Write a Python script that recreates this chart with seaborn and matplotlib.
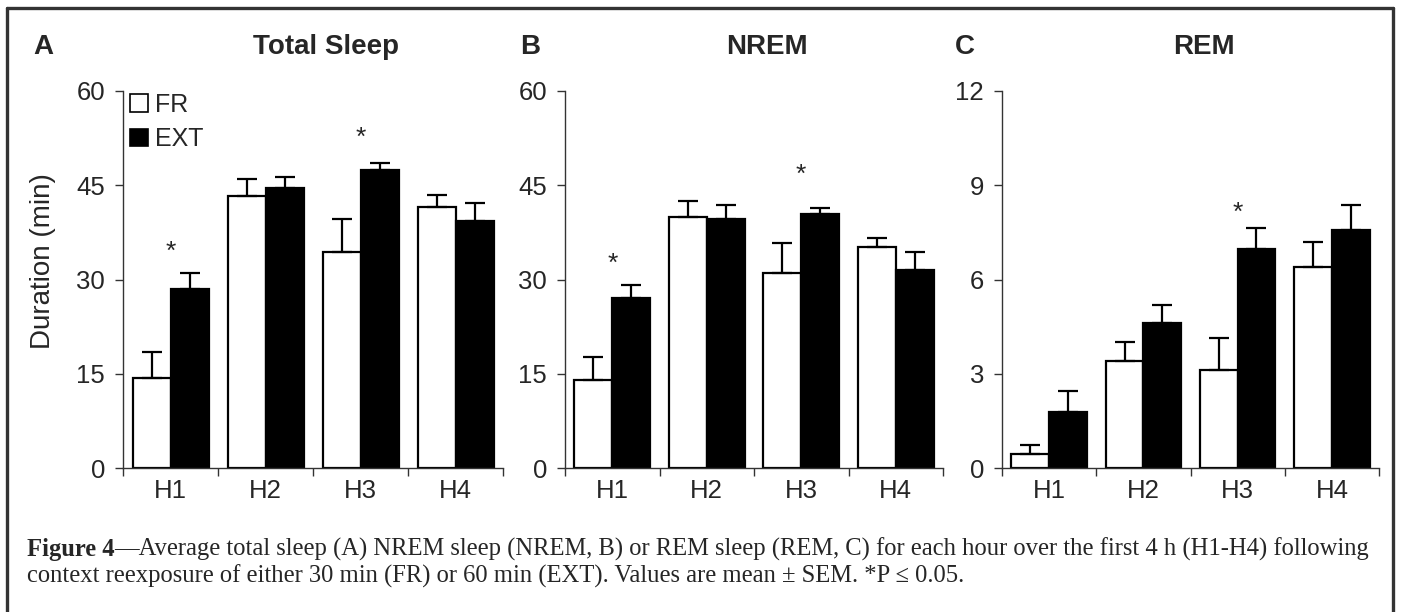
import pandas as pd
import matplotlib.pyplot as plt
import matplotlib.transforms as mtransforms
import seaborn as sns
from matplotlib.patches import Patch
from matplotlib.lines import Line2D

sns.set_style("ticks")
plt.rcParams['font.family'] = ['Liberation Sans', 'DejaVu Sans']

# Data (mean and upper SEM)
hours = ["H1", "H2", "H3", "H4"]
groups = ["FR", "EXT"]

total_fr = [14.4, 43.3, 34.4, 41.5]
total_fr_sem = [4.1, 2.7, 5.2, 1.9]
total_ext = [28.5, 44.5, 47.5, 39.3]
total_ext_sem = [2.6, 1.8, 1.0, 2.9]

nrem_fr = [14.0, 40.0, 31.0, 35.1]
nrem_fr_sem = [3.7, 2.5, 4.8, 1.5]
nrem_ext = [27.0, 39.6, 40.4, 31.5]
nrem_ext_sem = [2.2, 2.2, 1.0, 2.9]

rem_fr = [0.46, 3.42, 3.13, 6.39]
rem_fr_sem = [0.28, 0.58, 1.01, 0.79]
rem_ext = [1.78, 4.61, 6.97, 7.57]
rem_ext_sem = [0.67, 0.58, 0.66, 0.81]

# significance stars: (hour, height)
total_stars = [("H1", 35.0), ("H3", 53.2)]
nrem_stars = [("H1", 33.1), ("H3", 47.3)]
rem_stars = [("H3", 8.24)]

panels = [
    ("A", "Total Sleep", total_fr, total_fr_sem, total_ext, total_ext_sem, total_stars, [0, 15, 30, 45, 60]),
    ("B", "NREM", nrem_fr, nrem_fr_sem, nrem_ext, nrem_ext_sem, nrem_stars, [0, 15, 30, 45, 60]),
    ("C", "REM", rem_fr, rem_fr_sem, rem_ext, rem_ext_sem, rem_stars, [0, 3, 6, 9, 12]),
]

W, H = 1401, 612
fig = plt.figure(figsize=(W / 100, H / 100), dpi=100)

# axes boxes in pixels: left, right
boxes = [(123, 503), (565, 943), (1002, 1379)]
letter_x = [43, 530, 965]
ax_top, ax_bottom = 91, 468

for (letter, title, fr, fr_sem, ext, ext_sem, stars, yticks), (x0, x1), lx in zip(panels, boxes, letter_x):
    ax = fig.add_axes([x0 / W, 1 - ax_bottom / H, (x1 - x0) / W, (ax_bottom - ax_top) / H])
    df = pd.DataFrame({
        "hour": hours * 2,
        "group": ["FR"] * 4 + ["EXT"] * 4,
        "value": fr + ext,
    })
    sns.barplot(data=df, x="hour", y="value", hue="group", hue_order=groups,
                palette={"FR": "white", "EXT": "black"}, edgecolor="black",
                linewidth=1.6, errorbar=None, legend=False, ax=ax)

    # upper-only error bars on top of each bar
    for container, sem in zip(ax.containers, [fr_sem, ext_sem]):
        xs = [b.get_x() + b.get_width() / 2 for b in container]
        ys = [b.get_height() for b in container]
        ax.errorbar(xs, ys, yerr=[[0] * len(sem), sem], fmt="none", ecolor="black",
                    elinewidth=1.6, capsize=7.5, capthick=1.6, zorder=1)

    # star glyph sits high in its box, nudge it down a few pixels
    star_tr = mtransforms.offset_copy(ax.transData, fig=fig, y=-4, units="dots")
    for hr, yv in stars:
        ax.text(hours.index(hr), yv, "*", ha="center", va="center", fontsize=19, transform=star_tr)

    ax.set_xlim(-0.5, 3.5)
    ax.set_ylim(yticks[0], yticks[-1])
    ax.set_yticks(yticks)
    ax.set_xticks(range(4))
    ax.set_xticklabels(hours)
    ax.set_xticks([-0.5, 0.5, 1.5, 2.5, 3.5], minor=True)
    ax.tick_params(axis="x", which="major", length=0, pad=8, labelsize=18.5)
    ax.tick_params(axis="x", which="minor", length=6, width=1, direction="out", color="#333333")
    ax.tick_params(axis="y", length=6, width=1, pad=7, labelsize=18.5, color="#333333")
    ax.set_xlabel("")
    ax.set_ylabel("")
    sns.despine(ax=ax)
    for side in ["left", "bottom"]:
        ax.spines[side].set_linewidth(1)
        ax.spines[side].set_color("#333333")

    ax.text(0.535, 1.117, title, transform=ax.transAxes, ha="center", va="center",
            fontsize=20, fontweight="bold")
    fig.text(lx / W, 1 - 47 / H, letter, ha="center", va="center", fontsize=20, fontweight="bold")

    if letter == "A":
        ax.set_ylabel("Duration (min)", fontsize=20)
        ax.yaxis.set_label_coords(-0.175, 0.55)
        handles = [Patch(facecolor="white", edgecolor="black", linewidth=1.2),
                   Patch(facecolor="black", edgecolor="black", linewidth=1.2)]
        ax.legend(handles, groups, loc="upper left", bbox_to_anchor=(-0.02, 1.035), frameon=False,
                  fontsize=18, handlelength=0.7, handleheight=0.7, handletextpad=0.3,
                  labelspacing=0.42, borderaxespad=0.2)

# outer frame (open at the bottom)
frame_kw = dict(color="#333333", linewidth=2.4, transform=fig.transFigure)
fig.add_artist(Line2D([7 / W, 7 / W], [0, 1 - 8 / H], **frame_kw))
fig.add_artist(Line2D([7 / W, 1393 / W], [1 - 8 / H, 1 - 8 / H], **frame_kw))
fig.add_artist(Line2D([1393 / W, 1393 / W], [0, 1 - 8 / H], **frame_kw))

# caption
cap_font = ["Liberation Serif", "DejaVu Serif"]
cap_size = 17.7
line1 = "\u2014Average total sleep (A) NREM sleep (NREM, B) or REM sleep (REM, C) for each hour over the first 4 h (H1-H4) following"
line2 = "context reexposure of either 30 min (FR) or 60 min (EXT). Values are mean \u00b1 SEM. *P \u2264 0.05."
t_bold = fig.text(27 / W, 1 - 556 / H, "Figure 4", family=cap_font, fontsize=cap_size,
                  fontweight="bold", ha="left", va="baseline")
renderer = fig.canvas.get_renderer()
bb = t_bold.get_window_extent(renderer=renderer)
fig.text(bb.x1 / W, 1 - 556 / H, line1, family=cap_font, fontsize=cap_size, ha="left", va="baseline")
fig.text(27 / W, 1 - 583 / H, line2, family=cap_font, fontsize=cap_size, ha="left", va="baseline")

fig.savefig("out.png", dpi=100)
print("saved out.png")
